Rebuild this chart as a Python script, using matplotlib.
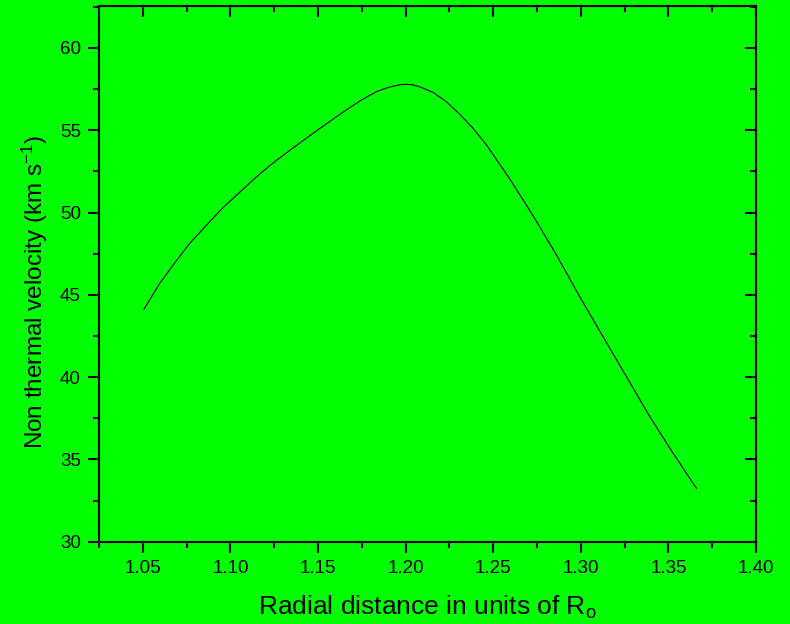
import numpy as np
import matplotlib
matplotlib.use("Agg")
import matplotlib.pyplot as plt
from matplotlib.ticker import MultipleLocator

plt.rcParams['font.family'] = ['Liberation Sans', 'DejaVu Sans']
plt.rcParams['mathtext.fontset'] = 'custom'
plt.rcParams['mathtext.rm'] = 'Liberation Sans'
plt.rcParams['mathtext.it'] = 'Liberation Sans'

# radial distance (solar radii) and non-thermal velocity (km/s)
radius = [1.0506, 1.0597, 1.0673, 1.0768, 1.0864, 1.0958, 1.1054, 1.1149,
          1.1221, 1.1263, 1.1358, 1.1453, 1.1549, 1.1643, 1.1739, 1.1834,
          1.1906, 1.1970, 1.2005, 1.2040, 1.2081, 1.2157, 1.2233, 1.2309,
          1.2385, 1.2462, 1.2534, 1.2595, 1.2728, 1.2861, 1.2994, 1.3127,
          1.3261, 1.3394, 1.3527, 1.3660]
velocity = [44.12, 45.70, 46.81, 48.13, 49.24, 50.30, 51.24, 52.17,
            52.82, 53.17, 53.93, 54.67, 55.40, 56.10, 56.78, 57.35,
            57.62, 57.77, 57.79, 57.76, 57.64, 57.30, 56.73, 55.97,
            55.12, 54.10, 52.98, 52.03, 49.80, 47.42, 44.88, 42.45,
            40.02, 37.59, 35.37, 33.24]

x_ticks = [1.05, 1.10, 1.15, 1.20, 1.25, 1.30, 1.35, 1.40]
y_ticks = [30, 35, 40, 45, 50, 55, 60]

green = '#00ff00'
fig = plt.figure(figsize=(7.9, 6.24), dpi=100, facecolor=green)
ax = fig.add_axes([0.1253, 0.1319, 0.8317, 0.8585], facecolor=green)

ax.plot(radius, velocity, color='black', lw=0.8)

ax.set_xlim(1.025, 1.40)
ax.set_ylim(30, 62.55)
ax.set_xticks(x_ticks)
ax.set_xticklabels(['%.2f' % t for t in x_ticks])
ax.set_yticks(y_ticks)
ax.xaxis.set_minor_locator(MultipleLocator(0.025))
ax.yaxis.set_minor_locator(MultipleLocator(2.5))

for s in ax.spines.values():
    s.set_linewidth(1.5)

ax.tick_params(which='both', direction='out', width=1.5, labelsize=13.5,
               top=False, right=False)
ax.tick_params(which='major', length=8, pad=5)
ax.tick_params(which='minor', length=4.5)

# inward ticks on the top and right frame
ax2 = ax.secondary_xaxis('top')
ax2.set_xticks(x_ticks)
ax2.xaxis.set_minor_locator(MultipleLocator(0.025))
ax2.tick_params(which='both', direction='in', width=1.5, labeltop=False)
ax2.tick_params(which='major', length=8)
ax2.tick_params(which='minor', length=4.5)
ax2.spines['top'].set_linewidth(1.5)
ay2 = ax.secondary_yaxis('right')
ay2.set_yticks(y_ticks)
ay2.yaxis.set_minor_locator(MultipleLocator(2.5))
ay2.tick_params(which='both', direction='in', width=1.5, labelright=False)
ay2.tick_params(which='major', length=8)
ay2.tick_params(which='minor', length=4.5)
ay2.spines['right'].set_linewidth(1.5)

ax.set_xlabel(r'Radial distance in units of R$_{\mathrm{o}}$', fontsize=19, labelpad=12)
ax.set_ylabel(r'Non thermal velocity (km s$^{\mathrm{-1}}$)', fontsize=17.5, labelpad=7)
ax.yaxis.label.set_y(0.466)

fig.savefig('out.png', dpi=100, facecolor=green)
